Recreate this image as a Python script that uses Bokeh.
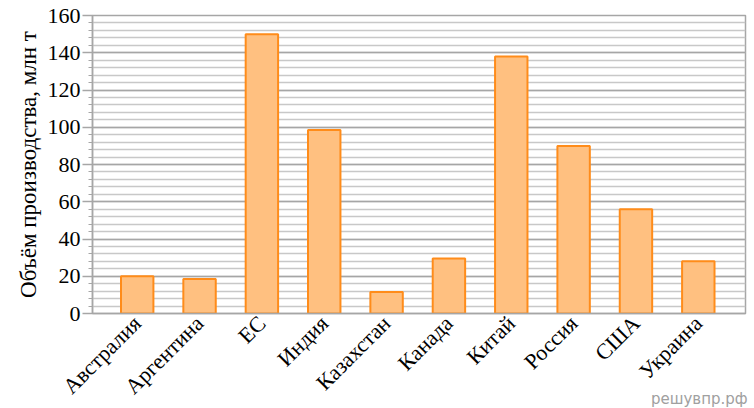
from bokeh.plotting import figure
from bokeh.models import FixedTicker, Range1d, Div
from bokeh.layouts import column
from bokeh.embed import file_html
from bokeh.resources import INLINE
from math import pi

categories = ["Австралия", "Аргентина", "ЕС", "Индия", "Казахстан",
              "Канада", "Китай", "Россия", "США", "Украина"]
values = [20, 18.5, 150, 98.5, 11.5, 29.5, 138, 90, 56, 28]
y_ticks = [0, 20, 40, 60, 80, 100, 120, 140, 160]
y_minor = list(range(0, 161, 4))
watermark = "решувпр.рф"

FONT = "Liberation Serif"
xs = list(range(len(categories)))

p = figure(frame_width=653, frame_height=298, output_backend="svg", toolbar_location=None,
           x_range=Range1d(-0.717, 9.757), y_range=Range1d(0, 160),
           min_border_left=92, min_border_right=9, min_border_top=15, min_border_bottom=94)
p.background_fill_color = "white"
p.border_fill_color = "white"
p.outline_line_color = "#a6a6a6"
p.outline_line_width = 1.5

p.vbar(x=xs, top=values, width=0.52, bottom=0,
       fill_color="#FFC080", line_color="#FF8C1A", line_width=2)

yt = FixedTicker(ticks=y_ticks, minor_ticks=y_minor)
p.yaxis.ticker = yt
p.ygrid.ticker = yt
p.ygrid.grid_line_color = "#a6a6a6"
p.ygrid.grid_line_width = 1.3
p.ygrid.minor_grid_line_color = "#c8c8c8"
p.ygrid.minor_grid_line_width = 1.3
p.xgrid.grid_line_color = None

p.yaxis.axis_line_color = "#a6a6a6"
p.yaxis.axis_line_width = 1.5
p.yaxis.major_tick_line_color = "#a6a6a6"
p.yaxis.major_tick_line_width = 1.3
p.yaxis.major_tick_out = 10
p.yaxis.major_tick_in = 0
p.yaxis.minor_tick_line_color = "#a6a6a6"
p.yaxis.minor_tick_out = 4
p.yaxis.minor_tick_in = 0
p.yaxis.major_label_text_font = FONT
p.yaxis.major_label_text_font_size = "22px"
p.yaxis.major_label_text_color = "black"
p.yaxis.major_label_standoff = 2
p.yaxis.axis_label = "Объём производства, млн т"
p.yaxis.axis_label_text_font = FONT
p.yaxis.axis_label_text_font_size = "23px"
p.yaxis.axis_label_text_font_style = "normal"
p.yaxis.axis_label_text_color = "black"
p.yaxis.axis_label_standoff = 4

p.xaxis.ticker = FixedTicker(ticks=xs)
p.xaxis.major_label_overrides = {i: c for i, c in enumerate(categories)}
p.xaxis.major_label_orientation = pi / 4
p.xaxis.major_label_text_font = FONT
p.xaxis.major_label_text_font_size = "22px"
p.xaxis.major_label_text_color = "black"
p.xaxis.major_tick_line_color = None
p.xaxis.minor_tick_line_color = None
p.xaxis.axis_line_color = "#a6a6a6"
p.xaxis.axis_line_width = 1.5
p.xaxis.major_label_standoff = 0

wm = Div(text=watermark, width=100, height=20,
         styles={"position": "absolute", "left": "646px", "top": "384px",
                 "color": "#a0a0a0", "font-family": "DejaVu Sans",
                 "font-size": "15px", "white-space": "nowrap"})

layout = column(p, wm)
open("out.html", "w").write(file_html(layout, INLINE))
